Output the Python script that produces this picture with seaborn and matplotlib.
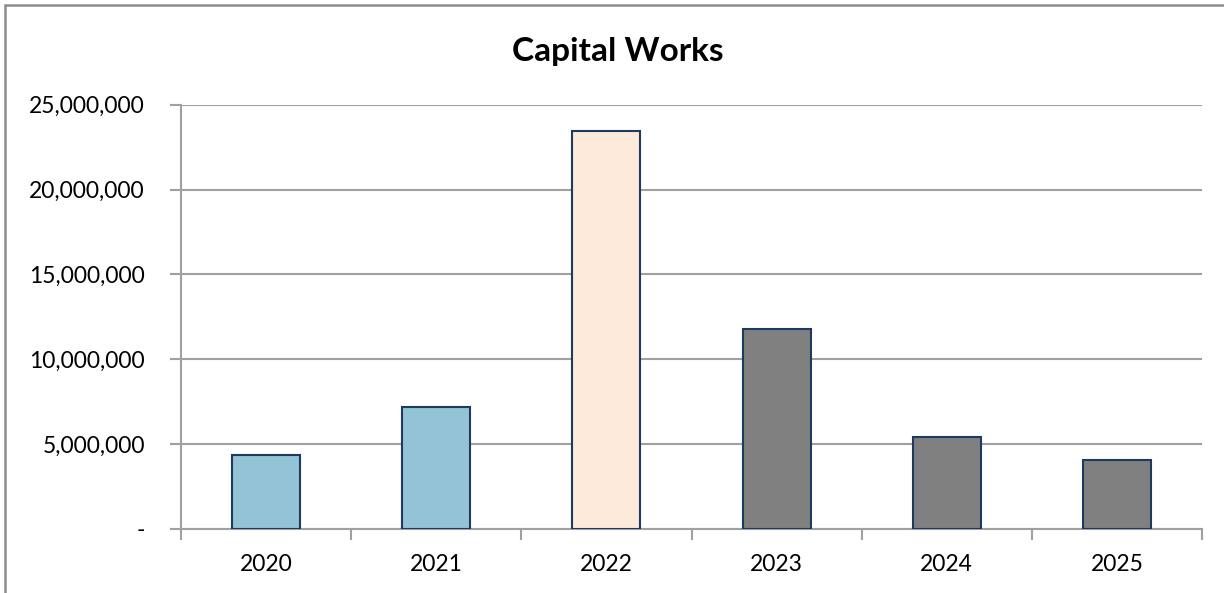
import matplotlib
matplotlib.use("Agg")
import matplotlib.pyplot as plt
import matplotlib.ticker as mticker
from matplotlib.patches import Rectangle
import seaborn as sns
import pandas as pd

years = ["2020", "2021", "2022", "2023", "2024", "2025"]
amounts = [4330000, 7190000, 23450000, 11770000, 5420000, 4030000]
bar_colors = ["#93C3D4", "#93C3D4", "#FDEADA", "#808080", "#808080", "#808080"]
y_ticks = [0, 5000000, 10000000, 15000000, 20000000, 25000000]
title = "Capital Works"

sns.set_theme(style="white")
plt.rcParams["font.family"] = ["Lato", "DejaVu Sans"]

df = pd.DataFrame({"year": years, "amount": amounts})

fig = plt.figure(figsize=(12.24, 5.93), dpi=100)
ax = fig.add_axes([181 / 1224, 64.3 / 593, (1202 - 181) / 1224, 424 / 593])

sns.barplot(data=df, x="year", y="amount", hue="year", palette=bar_colors,
            width=0.4, edgecolor="#1F3A60", linewidth=1.5, legend=False,
            saturation=1, ax=ax, zorder=3)

ax.set_xlim(-0.5, len(years) - 0.5)
ax.set_ylim(0, 25000000)
ax.set_yticks(y_ticks)
ax.yaxis.set_major_formatter(mticker.FuncFormatter(
    lambda v, p: "-" if v == 0 else f"{int(v):,}"))
ax.set_xlabel("")
ax.set_ylabel("")

grid_col = "#A0A0A0"
ax.yaxis.grid(True, color=grid_col, linewidth=1.5, zorder=0)
ax.xaxis.grid(False)
for side in ["top", "right"]:
    ax.spines[side].set_visible(False)
for side in ["left", "bottom"]:
    ax.spines[side].set_color(grid_col)
    ax.spines[side].set_linewidth(1.5)

# category boundary ticks on the x axis
ax.set_xticks([i - 0.5 for i in range(len(years) + 1)], minor=True)
ax.tick_params(axis="x", which="minor", bottom=True, length=8, width=1.5,
               color=grid_col)
ax.tick_params(axis="x", which="major", bottom=False, labelsize=16.5,
               labelcolor="black", pad=12)
ax.tick_params(axis="y", left=True, length=8, width=1.5, color=grid_col,
               labelsize=16.5, labelcolor="black", pad=18)

fig.text(0.505, 1 - 51 / 593, title, ha="center", va="center",
         fontsize=24, fontweight="bold", color="black")

# chart frame
fig.patches.append(Rectangle((5 / 1224, -0.1), 1.2, 1 - 5 / 593 + 0.1,
                             transform=fig.transFigure, fill=False,
                             edgecolor="#8C8C8C", linewidth=1.8))

fig.savefig("out.png", dpi=100)
